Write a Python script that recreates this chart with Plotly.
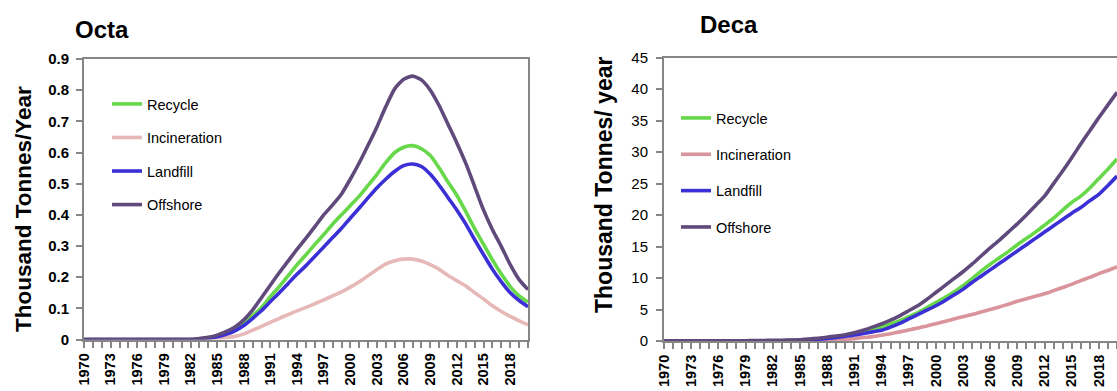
import plotly.graph_objects as go

years = list(range(1970, 2021))
label_years = list(range(1970, 2019, 3))
series_names = ["Recycle", "Incineration", "Landfill", "Offshore"]

# Octa (thousand tonnes / year), 1970..2020
octa_recycle = [0.0]*13 + [0.002, 0.005, 0.011, 0.02, 0.033, 0.052, 0.077, 0.103, 0.138, 0.17,
                           0.205, 0.24, 0.272, 0.305, 0.337, 0.37, 0.40, 0.43, 0.46, 0.495,
                           0.53, 0.568, 0.6, 0.617, 0.622, 0.612, 0.59, 0.55, 0.505, 0.462,
                           0.41, 0.355, 0.305, 0.255, 0.21, 0.17, 0.14, 0.12]
octa_incineration = [0.0]*14 + [0.001, 0.003, 0.006, 0.01, 0.018, 0.03, 0.042, 0.055, 0.068, 0.08,
                                0.092, 0.103, 0.115, 0.127, 0.14, 0.153, 0.168, 0.185, 0.205, 0.225,
                                0.243, 0.253, 0.258, 0.258, 0.252, 0.24, 0.225, 0.205, 0.188, 0.172,
                                0.15, 0.13, 0.108, 0.09, 0.074, 0.06, 0.047]
octa_landfill = [0.0]*13 + [0.001, 0.004, 0.009, 0.017, 0.028, 0.045, 0.068, 0.093, 0.122, 0.15,
                            0.18, 0.21, 0.237, 0.267, 0.297, 0.327, 0.357, 0.39, 0.422, 0.455,
                            0.487, 0.515, 0.54, 0.558, 0.563, 0.555, 0.53, 0.495, 0.455, 0.415,
                            0.37, 0.32, 0.272, 0.225, 0.185, 0.15, 0.125, 0.105]
octa_offshore = [0.0]*13 + [0.003, 0.007, 0.014, 0.025, 0.04, 0.063, 0.095, 0.135, 0.175, 0.215,
                            0.252, 0.29, 0.325, 0.362, 0.40, 0.432, 0.467, 0.515, 0.567, 0.624,
                            0.683, 0.748, 0.805, 0.835, 0.845, 0.833, 0.80, 0.75, 0.69, 0.63,
                            0.565, 0.49, 0.415, 0.352, 0.298, 0.24, 0.192, 0.16]

# Deca (thousand tonnes / year), 1970..2020
deca_recycle = [0.0]*13 + [0.05, 0.1, 0.15, 0.22, 0.35, 0.5, 0.7, 0.9, 1.15, 1.5,
                           1.85, 2.2, 2.7, 3.2, 3.85, 4.5, 5.3, 6.1, 6.9, 7.8,
                           8.8, 9.9, 11.1, 12.2, 13.2, 14.2, 15.3, 16.3, 17.3, 18.4,
                           19.5, 20.8, 22.0, 23.0, 24.3, 25.8, 27.3, 28.9]
deca_incineration = [0.0]*16 + [0.03, 0.06, 0.1, 0.17, 0.25, 0.38, 0.55, 0.7, 0.9, 1.15,
                                1.45, 1.75, 2.05, 2.4, 2.75, 3.1, 3.5, 3.85, 4.2, 4.6,
                                5.0, 5.4, 5.85, 6.3, 6.7, 7.1, 7.5, 8.0, 8.5, 9.0,
                                9.6, 10.1, 10.7, 11.2, 11.8]
deca_landfill = [0.0]*13 + [0.03, 0.06, 0.1, 0.18, 0.28, 0.4, 0.55, 0.75, 0.95, 1.2,
                            1.45, 1.7, 2.2, 2.8, 3.5, 4.2, 4.9, 5.6, 6.4, 7.3,
                            8.2, 9.3, 10.3, 11.3, 12.3, 13.3, 14.3, 15.3, 16.3, 17.3,
                            18.3, 19.3, 20.3, 21.2, 22.3, 23.3, 24.7, 26.2]
deca_offshore = [0.05]*10 + [0.07, 0.09, 0.11, 0.13, 0.16, 0.2, 0.3, 0.45, 0.6, 0.8,
                             1.0, 1.3, 1.7, 2.2, 2.7, 3.3, 4.0, 4.8, 5.6, 6.6,
                             7.7, 8.8, 9.9, 11.0, 12.2, 13.5, 14.8, 16.0, 17.3, 18.6,
                             20.0, 21.5, 23.0, 25.0, 27.0, 29.1, 31.3, 33.4, 35.5, 37.5, 39.5]

octa_colors = ["#66D84A", "#E6B9B8", "#3B2FD6", "#604A7B"]
deca_colors = ["#66D84A", "#D9959B", "#3B2FD6", "#604A7B"]

W, H = 1117, 391
SANS = "Liberation Sans, Arial, sans-serif"

fig = go.Figure()
octa = [octa_recycle, octa_incineration, octa_landfill, octa_offshore]
deca = [deca_recycle, deca_incineration, deca_landfill, deca_offshore]
for i, name in enumerate(series_names):
    fig.add_trace(go.Scatter(x=years, y=octa[i], name=name, mode="lines",
                             line=dict(color=octa_colors[i], width=3.6, shape="spline", smoothing=0.6),
                             xaxis="x", yaxis="y", legend="legend", legendgroup="o" + str(i)))
for i, name in enumerate(series_names):
    fig.add_trace(go.Scatter(x=years, y=deca[i], name=name, mode="lines",
                             line=dict(color=deca_colors[i], width=3.6, shape="spline", smoothing=0.6),
                             xaxis="x2", yaxis="y2", legend="legend2", legendgroup="d" + str(i)))

ticktext = [str(y) if y in label_years else "" for y in years]
xcommon = dict(tickmode="array", tickvals=years, ticktext=ticktext, tickangle=-90,
               ticks="outside", ticklen=6, tickcolor="#868686", tickwidth=1.5,
               showline=True, linecolor="#868686", linewidth=2, showgrid=False, zeroline=False,
               automargin=False, range=[1970, 2020],
               tickfont=dict(family=SANS, size=14.5, color="black", weight="bold"))

def py(pix):
    return (H - pix) / H

fig.update_layout(
    width=W, height=H, margin=dict(l=0, r=0, t=0, b=0, autoexpand=False),
    plot_bgcolor="white", paper_bgcolor="white",
    xaxis=dict(domain=[84 / W, 528 / W], anchor="y", mirror=True, **xcommon),
    yaxis=dict(domain=[py(339.5), py(59)], anchor="x", range=[0, 0.9], dtick=0.1,
               tickformat=".1~f", ticks="outside", ticklen=6, tickcolor="#868686", tickwidth=1.5,
               showline=True, linecolor="#868686", linewidth=2, mirror=True, showgrid=False,
               zeroline=False, automargin=False, ticklabelstandoff=4,
               tickfont=dict(family=SANS, size=15, color="black", weight="bold")),
    xaxis2=dict(domain=[664 / W, 1.0], anchor="y2", mirror=True, **xcommon),
    yaxis2=dict(domain=[py(341), py(57.7)], anchor="x2", range=[0, 45], dtick=5,
                ticks="outside", ticklen=6, tickcolor="#868686", tickwidth=1.5,
                showline=True, linecolor="#868686", linewidth=2, showgrid=False,
                zeroline=False, automargin=False, ticklabelstandoff=5,
                tickfont=dict(family=SANS, size=15, color="black")),
    legend=dict(x=107 / W, y=py(88), xanchor="left", yanchor="top", traceorder="grouped",
                tracegroupgap=11.7, bgcolor="rgba(0,0,0,0)",
                font=dict(family=SANS, size=14.5, color="black")),
    legend2=dict(x=676 / W, y=py(102), xanchor="left", yanchor="top", traceorder="grouped",
                 tracegroupgap=14.5, bgcolor="rgba(0,0,0,0)",
                 font=dict(family=SANS, size=14.5, color="black")),
    annotations=[
        dict(text="<b>Octa</b>", x=73 / W, y=py(30), xref="paper", yref="paper",
             xanchor="left", yanchor="middle", showarrow=False,
             font=dict(family=SANS, size=24, color="black")),
        dict(text="<b>Deca</b>", x=698 / W, y=py(25), xref="paper", yref="paper",
             xanchor="left", yanchor="middle", showarrow=False,
             font=dict(family=SANS, size=24, color="black")),
        dict(text="<b>Thousand Tonnes/Year</b>", x=23 / W, y=py(209), xref="paper", yref="paper",
             xanchor="center", yanchor="middle", showarrow=False, textangle=-90,
             font=dict(family=SANS, size=22.5, color="black")),
        dict(text="<b>Thousand Tonnes/ year</b>", x=604 / W, y=py(185), xref="paper", yref="paper",
             xanchor="center", yanchor="middle", showarrow=False, textangle=-90,
             font=dict(family=SANS, size=23, color="black")),
    ],
)

fig.write_html("out.html", config={"displayModeBar": False},
               post_script="document.body.style.margin='0';")
